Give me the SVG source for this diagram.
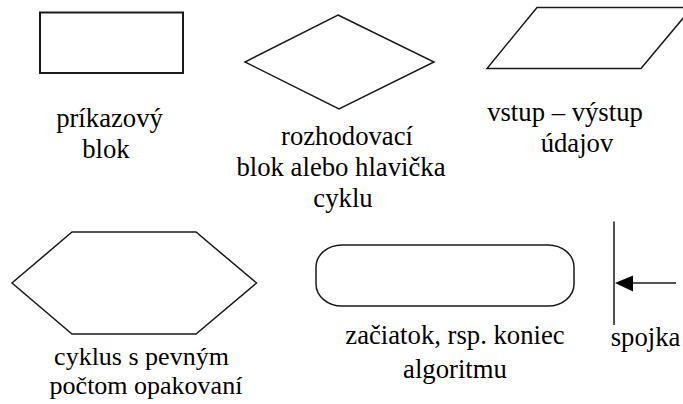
<svg xmlns="http://www.w3.org/2000/svg" width="683" height="404" viewBox="0 0 683 404">
<style>
.s{fill:#fff;stroke:#1a1a1a;stroke-width:1.5}
.t{font-family:'Liberation Serif','DejaVu Serif',serif;font-size:26.7px;fill:#000;text-anchor:middle}
.c{fill:none;stroke:#1a1a1a;stroke-width:1.5}
</style>
<rect width="683" height="404" fill="#fff"/>
<g id="prikazovy">
<rect class="s" x="40" y="12.5" width="143" height="60.5" style="stroke-width:2"/>
<text class="t" font-family="Liberation Serif, serif" x="109.5" y="127">príkazový</text>
<text class="t" font-family="Liberation Serif, serif" x="106" y="157.5">blok</text>
</g>
<g id="rozhodovaci">
<polygon class="s" points="338,15 434,62 339,109 245,62"/>
<text class="t" font-family="Liberation Serif, serif" x="347" y="145">rozhodovací</text>
<text class="t" font-family="Liberation Serif, serif" x="341" y="176">blok alebo hlavička</text>
<text class="t" font-family="Liberation Serif, serif" x="343" y="207">cyklu</text>
</g>
<g id="vstup-vystup">
<polygon class="s" points="537,7.5 692,7.5 641,68.5 487,68.5"/>
<text class="t" font-family="Liberation Serif, serif" x="565" y="121">vstup – výstup</text>
<text class="t" font-family="Liberation Serif, serif" x="577" y="151.5">údajov</text>
</g>
<g id="cyklus">
<polygon class="s" points="72,232 196,232 256.5,283 196,334 72,334 12,283"/>
<text class="t" font-family="Liberation Serif, serif" x="141.5" y="364.5" style="font-size:26px">cyklus s pevným</text>
<text class="t" font-family="Liberation Serif, serif" x="146" y="393.5" style="font-size:26px">počtom opakovaní</text>
</g>
<g id="zaciatok-koniec">
<rect class="s" x="316" y="245" width="258" height="61" rx="26" ry="22"/>
<text class="t" font-family="Liberation Serif, serif" x="455" y="343.5">začiatok, rsp. koniec</text>
<text class="t" font-family="Liberation Serif, serif" x="455" y="378">algoritmu</text>
</g>
<g id="spojka">
<text class="t" font-family="Liberation Serif, serif" x="645.5" y="345.5">spojka</text>
</g>
<g id="connectors">
<line class="c" x1="614" y1="221.5" x2="614" y2="325"/>
<line class="c" x1="630" y1="283" x2="676" y2="283"/>
<polygon points="615,283 633,275.5 633,291.5" fill="#000"/>
</g>
</svg>
